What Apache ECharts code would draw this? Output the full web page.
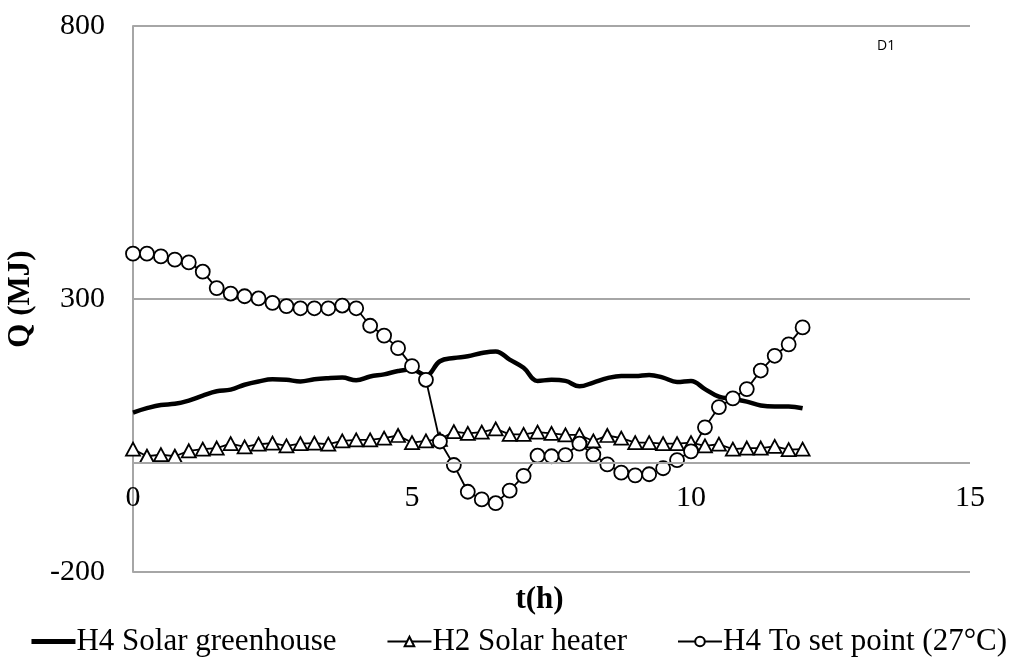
<!DOCTYPE html>
<html>
<head>
<meta charset="utf-8">
<script src="https://cdn.jsdelivr.net/npm/echarts@6/dist/echarts.min.js"></script>
<style>
  html, body { margin: 0; padding: 0; background: #fff; }
  #chart { width: 1036px; height: 660px; }
</style>
</head>
<body>
<div id="chart"></div>
<script>
// Time of day (h), sampled every quarter hour
const hours = [
  0, 0.25, 0.5, 0.75, 1, 1.25, 1.5, 1.75, 2, 2.25, 2.5, 2.75,
  3, 3.25, 3.5, 3.75, 4, 4.25, 4.5, 4.75, 5, 5.25, 5.5, 5.75,
  6, 6.25, 6.5, 6.75, 7, 7.25, 7.5, 7.75, 8, 8.25, 8.5, 8.75,
  9, 9.25, 9.5, 9.75, 10, 10.25, 10.5, 10.75, 11, 11.25, 11.5, 11.75, 12
];

// Q (MJ) for each series
const solarGreenhouse = [
  92, 100, 106, 108, 114, 123, 131, 134, 143, 149, 153, 152,
  149, 153, 155, 156, 151, 158, 162, 168, 171, 160, 186, 192,
  195, 201, 204, 189, 174, 150, 152, 150, 140, 147, 155, 159,
  159, 161, 156, 148, 150, 135, 121, 117, 112, 105, 103, 103, 100
];
const solarHeater = [
  25, 12, 15, 12, 22, 25, 27, 35, 29, 34, 36, 31,
  35, 36, 34, 40, 42, 42, 45, 50, 37, 40, 43, 57,
  54, 56, 62, 52, 52, 56, 54, 51, 51, 40, 50, 45,
  37, 37, 35, 35, 37, 31, 34, 25, 27, 27, 30, 24, 25
];
const toSetPoint = [
  383, 383, 378, 372, 367, 350, 320, 310, 305, 301, 293, 287,
  283, 283, 283, 288, 283, 251, 233, 210, 177, 152, 39, -4,
  -53, -67, -74, -51, -24, 13, 12, 14, 35, 15, -3, -18,
  -23, -21, -10, 5, 21, 65, 102, 118, 135, 169, 196, 217, 248
];

const seriesNames = ['H4 Solar greenhouse', 'H2 Solar heater', 'H4 To set point (27\u00B0C)'];

const pairs = vals => hours.map((h, i) => [h, vals[i]]);

const serif = '"Liberation Serif", "Times New Roman", serif';
const gridGray = '#a6a6a6';
const fs = 30;

const chart = echarts.init(document.getElementById('chart'), null, { renderer: 'canvas' });

chart.setOption({
  animation: false,
  backgroundColor: '#ffffff',
  grid: { left: 133, right: 66, top: 26, bottom: 88, containLabel: false, outerBoundsMode: 'none' },
  xAxis: {
    type: 'value',
    min: 0, max: 15, interval: 5,
    name: 't(h)',
    nameLocation: 'middle',
    nameGap: 12,
    nameTextStyle: { fontFamily: serif, fontSize: 31, fontWeight: 'bold', color: '#000', padding: [0, 24, 0, 0] },
    axisLine: { show: false, onZero: false },
    axisTick: { show: false },
    // tick labels sit just under the zero line
    axisLabel: { fontFamily: serif, fontSize: fs, color: '#000', margin: -89 },
    splitLine: { show: false }
  },
  yAxis: {
    type: 'value',
    min: -200, max: 800, interval: 500,
    name: 'Q (MJ)',
    nameLocation: 'middle',
    nameGap: 97,
    nameTextStyle: { fontFamily: serif, fontSize: 31, fontWeight: 'bold', color: '#000' },
    axisLine: { show: true, lineStyle: { color: gridGray, width: 2 } },
    axisTick: { show: false },
    axisLabel: { fontFamily: serif, fontSize: fs, color: '#000', margin: 28 },
    splitLine: { show: true, lineStyle: { color: gridGray, width: 2 } }
  },
  legend: {
    data: [
      { name: seriesNames[0], itemStyle: { opacity: 0 }, lineStyle: { width: 5, color: '#000' } },
      { name: seriesNames[1] },
      { name: seriesNames[2] }
    ],
    left: 'center',
    top: 621,
    itemWidth: 44,
    itemHeight: 12,
    itemGap: 50,
    textStyle: { fontFamily: serif, fontSize: 31, color: '#000', padding: [0, 0, 0, -4] }
  },
  graphic: [{
    type: 'text',
    left: 877,
    top: 39,
    style: { text: 'D1', fontFamily: '"Open Sans", "Liberation Sans", sans-serif', fontSize: 14, fill: '#000' }
  }],
  series: [
    {
      name: seriesNames[0],
      type: 'line',
      data: pairs(solarGreenhouse),
      smooth: 0.4,
      symbol: 'none',
      lineStyle: { color: '#000', width: 4.5 },
      itemStyle: { color: '#000' },
      // horizontal axis line at Q = 0
      markLine: {
        silent: true,
        symbol: 'none',
        label: { show: false },
        lineStyle: { color: gridGray, width: 2, type: 'solid' },
        data: [{ yAxis: 0 }]
      },
      z: 2
    },
    {
      name: seriesNames[1],
      type: 'line',
      data: pairs(solarHeater),
      symbol: 'triangle',
      symbolSize: [14, 13],
      lineStyle: { color: '#000', width: 1.8 },
      itemStyle: { color: '#fff', borderColor: '#000', borderWidth: 1.8 },
      z: 3
    },
    {
      name: seriesNames[2],
      type: 'line',
      data: pairs(toSetPoint),
      symbol: 'circle',
      symbolSize: 14,
      lineStyle: { color: '#000', width: 1.8 },
      itemStyle: { color: '#fff', borderColor: '#000', borderWidth: 1.8 },
      z: 4
    }
  ]
});
</script>
</body>
</html>
